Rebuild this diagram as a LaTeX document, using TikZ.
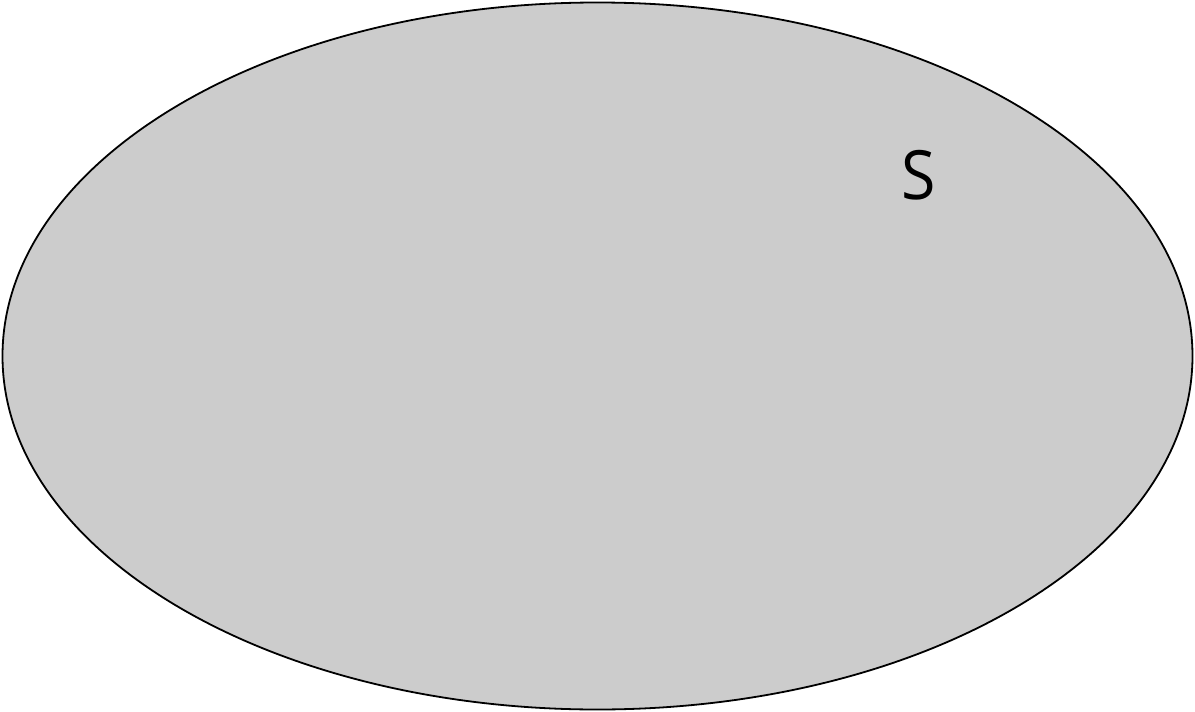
\documentclass[tikz,border=0pt]{standalone}
\usepackage{fontspec}
\setmainfont{Open Sans}
\usetikzlibrary{shapes.geometric}
\definecolor{setgray}{HTML}{CCCCCC}
\tikzset{setshape/.style={ellipse, draw=black, line width=1.8pt, fill=setgray, inner sep=0pt, minimum width=1190pt, minimum height=707pt},
 setlabel/.style={font=\fontsize{68pt}{68pt}\selectfont, inner sep=0pt, xscale=0.92}}
\begin{document}
\begin{tikzpicture}[x=1pt,y=-1pt]
\useasboundingbox (0,0) rectangle (1195,712);
\node[setshape] (set) at (597.5,356) {};
\node[setlabel] (lbl) at (918.5,175.5) {S};
\end{tikzpicture}
\end{document}
